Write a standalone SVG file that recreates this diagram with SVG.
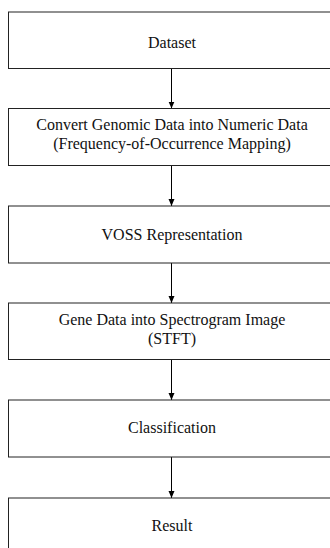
<svg xmlns="http://www.w3.org/2000/svg" width="330" height="548" viewBox="0 0 330 548">
<defs>
<marker id="ah" viewBox="0 0 7 8" refX="7" refY="3.5" markerWidth="7" markerHeight="8" markerUnits="userSpaceOnUse" orient="auto">
<path d="M0,0.5 L7,3.5 L0,6.5 Z" fill="#000"/>
</marker>
</defs>
<style>
.box{fill:#fff;stroke:#222;stroke-width:1}
.t{font-family:"Liberation Serif","Times New Roman",Times,serif;font-size:16px;fill:#111;text-anchor:middle}
.c{stroke:#000;stroke-width:1;fill:none}
</style>
<rect width="330" height="548" fill="#fff"/>
<g id="connectors">
<line class="c" x1="171.5" y1="68.5" x2="171.5" y2="108.5" marker-end="url(#ah)"/>
<line class="c" x1="171.5" y1="165.5" x2="171.5" y2="206" marker-end="url(#ah)"/>
<line class="c" x1="171.5" y1="263" x2="171.5" y2="303" marker-end="url(#ah)"/>
<line class="c" x1="171.5" y1="359.5" x2="171.5" y2="400" marker-end="url(#ah)"/>
<line class="c" x1="171.5" y1="457" x2="171.5" y2="498" marker-end="url(#ah)"/>
</g>
<g id="dataset">
<rect class="box" x="8.5" y="12" width="340" height="56.5"/>
<text class="t" x="172" y="47.5">Dataset</text>
</g>
<g id="convert">
<rect class="box" x="8.5" y="108.5" width="340" height="57"/>
<text class="t" x="172" y="130">Convert Genomic Data into Numeric Data</text>
<text class="t" x="172" y="148.5">(Frequency-of-Occurrence Mapping)</text>
</g>
<g id="voss">
<rect class="box" x="8.5" y="206" width="340" height="57"/>
<text class="t" x="172" y="239.5">VOSS Representation</text>
</g>
<g id="spectrogram">
<rect class="box" x="8.5" y="303" width="340" height="56.5"/>
<text class="t" x="172" y="325">Gene Data into Spectrogram Image</text>
<text class="t" x="172" y="343.5">(STFT)</text>
</g>
<g id="classification">
<rect class="box" x="8.5" y="400" width="340" height="57"/>
<text class="t" x="172" y="433">Classification</text>
</g>
<g id="result">
<rect class="box" x="8.5" y="498" width="340" height="80"/>
<text class="t" x="172" y="531">Result</text>
</g>
</svg>
